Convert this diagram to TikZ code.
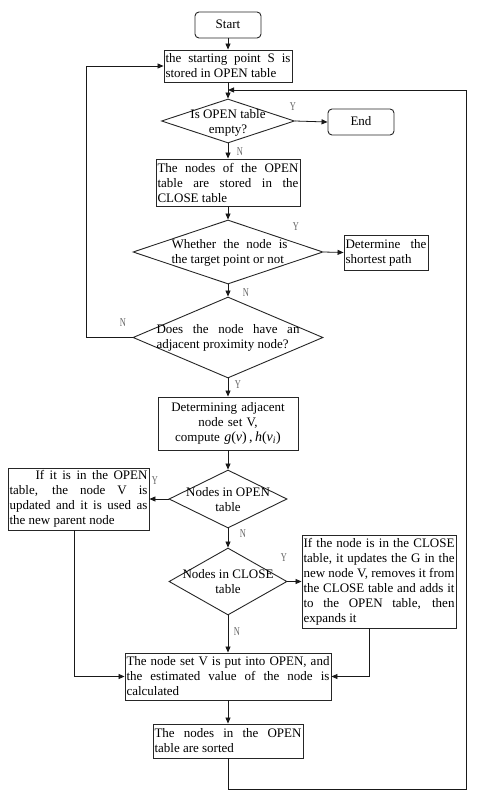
\documentclass[tikz,border=0pt]{standalone}
\usepackage{fontspec}
\setmainfont{Liberation Serif}
\usetikzlibrary{shapes.geometric,arrows.meta}
\tikzset{
  txt/.style={font=\fontsize{13}{15}\selectfont},
  box/.style={txt, draw=black!85, line width=0.9pt, rectangle, inner sep=0pt, align=justify},
  rbox/.style={txt, draw=black!85, line width=0.9pt, rectangle, rounded corners=4pt, inner sep=0pt,
               minimum width=66pt, minimum height=26pt},
  dia/.style={draw=black!85, line width=0.9pt, diamond, inner sep=0pt},
  dtext/.style={txt, inner sep=0pt},
  arr/.style={draw=black!90, line width=0.8pt, -{Triangle[length=6pt,width=5pt]}},
  lab/.style={font=\fontsize{12}{12}\selectfont, text=black!60, inner sep=0pt, transform shape, xscale=0.7},
}
\begin{document}
\begin{tikzpicture}[x=1pt,y=-1pt]
\useasboundingbox (0,0) rectangle (477,799);
\fill[white] (0,0) rectangle (477,799);

% nodes
\node[rbox] (start) at (228,25) {\raisebox{2pt}{Start}};
\node[box, minimum width=128pt, minimum height=32pt, text width=125pt] (b1) at (228,66)
  {the starting point S is\linebreak stored in OPEN table};
\node[dia, minimum width=133pt, minimum height=44pt] (d1) at (228,121) {};
\node[dtext, align=center] (d1t) at (228,123) {Is OPEN table\\empty?};
\node[rbox] (end) at (361,122) {\raisebox{2pt}{End}};
\node[box, minimum width=144pt, minimum height=47pt, text width=141pt] (b2) at (228,182.5)
  {The nodes of the OPEN\linebreak table are stored in the\linebreak CLOSE table};
\node[dia, minimum width=190pt, minimum height=64pt] (d2) at (228,252) {};
\node[dtext, align=justify, text width=116pt] (d2t) at (229.5,253)
  {Whether the node is\linebreak the target point or not};
\node[box, minimum width=84pt, minimum height=35pt, text width=81pt] (sp) at (386,252.5)
  {Determine the\linebreak shortest path};
\node[dia, minimum width=190pt, minimum height=81pt] (d3) at (228,337.5) {};
\node[dtext, align=justify, text width=143pt] (d3t) at (228,338)
  {Does the node have an\linebreak adjacent proximity node?};
\node[box, align=center, minimum width=140pt, minimum height=53pt, text width=137pt] (b3) at (228,423.5)
  {Determining adjacent\\node set V,\\compute {\fontsize{14}{15}\selectfont\textit{g}(\textit{v})\,,\,\textit{h}(\textit{v}\textsubscript{\textit{i}})}};
\node[dia, minimum width=118pt, minimum height=58pt] (d4) at (228,499) {};
\node[dtext, align=center] (d4t) at (228,500) {Nodes in OPEN\\table};
\node[box, minimum width=141pt, minimum height=62pt, text width=138pt] (lb) at (78.5,499)
  {\hspace*{26pt}If it is in the OPEN\linebreak table, the node V is\linebreak updated and it is used as\linebreak the new parent node};
\node[dia, minimum width=118pt, minimum height=67pt] (d5) at (228,581.5) {};
\node[dtext, align=center] (d5t) at (228,582) {Nodes in CLOSE\\table};
\node[box, minimum width=154pt, minimum height=93pt, text width=151pt] (rbx) at (379,581.5)
  {If the node is in the CLOSE\linebreak table, it updates the G in the\linebreak new node V, removes it from\linebreak the CLOSE table and adds it\linebreak to the OPEN table, then\linebreak expands it};
\node[box, minimum width=206pt, minimum height=47pt, text width=203pt] (b5) at (228,676.5)
  {The node set V is put into OPEN, and\linebreak the estimated value of the node is\linebreak calculated};
\node[box, minimum width=150pt, minimum height=34pt, text width=147pt] (b6) at (228,741)
  {The nodes in the OPEN\linebreak table are sorted};

% labels
\node[lab] (y1) at (293,107) {Y};
\node[lab] (n1) at (240,152) {N};
\node[lab] (y2) at (296,227) {Y};
\node[lab] (n2) at (246,293) {N};
\node[lab] (n3) at (123,323) {N};
\node[lab] (y3) at (238,385) {Y};
\node[lab] (y4) at (155,481) {Y};
\node[lab] (n4) at (243,534) {N};
\node[lab] (y5) at (284,558) {Y};
\node[lab] (n5) at (237,632) {N};

% helper coordinates
\coordinate (lj) at (228,90);
\coordinate (rb) at (466,789);
\coordinate (lx) at (86,337.5);

% connectors
\draw[arr] (start.south) -- (b1.north);
\draw[arr] (b1.south) -- (d1.north);
\draw[arr] (d1.east) -- (end.west);
\draw[arr] (d1.south) -- (b2.north);
\draw[arr] (b2.south) -- (d2.north);
\draw[arr] (d2.east) -- (sp.west);
\draw[arr] (d2.south) -- (d3.north);
\draw[arr] (d3.west) -- (lx) |- (b1.west);
\draw[arr] (d3.south) -- (b3.north);
\draw[arr] (b3.south) -- (d4.north);
\draw[arr] (d4.west) -- (lb.east);
\draw[arr] (d4.south) -- (d5.north);
\draw[arr] (d5.east) -- (rbx.west);
\draw[arr] (d5.south) -- (b5.north);
\draw[arr] ([xshift=-4.5pt]lb.south) |- (b5.west);
\draw[arr] ([xshift=-10pt]rbx.south) |- (b5.east);
\draw[arr] (b5.south) -- (b6.north);
\draw[arr] (b6.south) |- (rb) |- (lj);
\end{tikzpicture}
\end{document}
